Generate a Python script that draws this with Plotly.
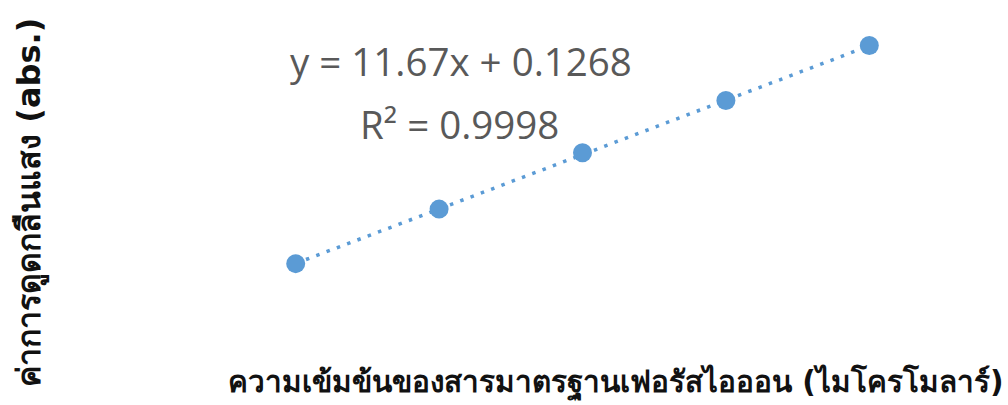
import numpy as np
import plotly.graph_objects as go

# Standard ferrous-ion concentrations (µM) and measured absorbance
concentration = [0.01, 0.02, 0.03, 0.04, 0.05]
absorbance = [0.243, 0.360, 0.481, 0.593, 0.711]

# Linear trendline parameters
slope = 11.67
intercept = 0.1268
r_squared = 0.9998

x_title = "ความเข้มข้นของสารมาตรฐานเฟอรัสไอออน (ไมโครโมลาร์)"
y_title = "ค่าการดูดกลืนแสง (abs.)"

point_color = "#5B9BD5"
text_grey = "#595959"

trend_x = np.array([concentration[0], concentration[-1]])
trend_y = slope * trend_x + intercept

fig = go.Figure()
fig.add_trace(go.Scatter(
    x=trend_x, y=trend_y, mode="lines",
    line=dict(color=point_color, width=3.5, dash="3.5px,7.5px"),
    hoverinfo="skip", showlegend=False,
))
fig.add_trace(go.Scatter(
    x=concentration, y=absorbance, mode="markers",
    marker=dict(color=point_color, size=19),
    showlegend=False,
))

eq_font = dict(family="Open Sans, Lato, sans-serif", size=38.5, color=text_grey)
x_title_font = dict(family="Tahoma, DejaVu Sans, sans-serif", size=29.7,
                    color="#111111", weight="bold")
y_title_font = dict(family="Tahoma, DejaVu Sans, sans-serif", size=32,
                    color="#111111", weight="bold")

fig.add_annotation(
    text=f"y = {slope}x + {intercept}", xref="paper", yref="paper",
    x=(461 - 224) / 717.5, y=1 - (61 - 4) / 303.5, showarrow=False,
    font=eq_font, xanchor="center", yanchor="middle",
)
fig.add_annotation(
    text=f"R² = {r_squared}", xref="paper", yref="paper",
    x=(460 - 224) / 717.5, y=1 - (124 - 4) / 303.5, showarrow=False,
    font=eq_font, xanchor="center", yanchor="middle",
)
fig.add_annotation(
    text=x_title, xref="paper", yref="paper",
    x=(616 - 224) / 717.5, y=1 - (384 - 4) / 303.5, showarrow=False,
    font=x_title_font, xanchor="center", yanchor="middle",
)
fig.add_annotation(
    text=y_title, xref="paper", yref="paper", textangle=-90,
    x=(30 - 224) / 717.5, y=1 - (203 - 4) / 303.5, showarrow=False,
    font=y_title_font, xanchor="center", yanchor="middle",
)

axis_style = dict(showgrid=False, zeroline=False, showline=False,
                  showticklabels=False, ticks="")
fig.update_xaxes(range=[0.005, 0.055], **axis_style)
fig.update_yaxes(range=[0.15, 0.8], **axis_style)

fig.update_layout(
    width=1008, height=405,
    margin=dict(l=224, r=66.5, t=4, b=97.5),
    plot_bgcolor="white", paper_bgcolor="white",
)

fig.write_html("out.html")
